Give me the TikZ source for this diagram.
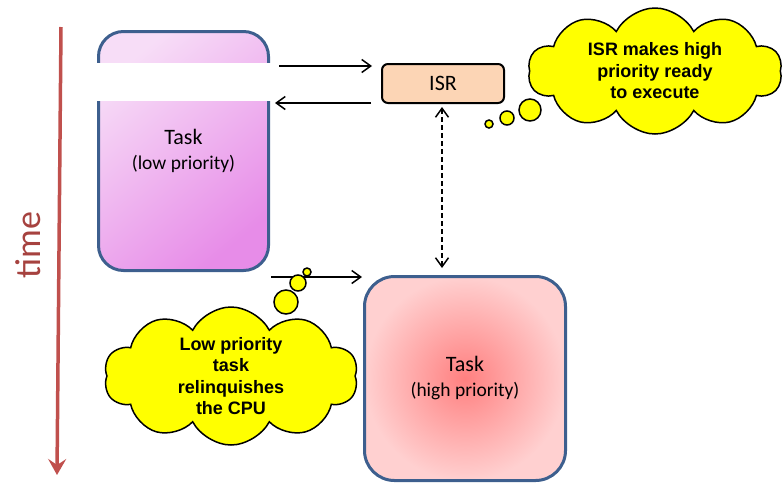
\documentclass[tikz,border=0pt]{standalone}
\usepackage{fontspec}
\setmainfont{Carlito}
\newfontfamily\cloudfont{Liberation Sans}
\usetikzlibrary{arrows.meta,shapes.symbols}
\definecolor{taskline}{HTML}{3D5F8E}
\definecolor{isrfill}{HTML}{FCD5B5}
\definecolor{lowtop}{HTML}{F7DDF7}
\definecolor{lowmid}{HTML}{F2C6F2}
\definecolor{lowbot}{HTML}{E78CE8}
\definecolor{highin}{HTML}{FF8080}
\definecolor{highout}{HTML}{FFD0D0}
\definecolor{timered}{HTML}{C0504D}
\definecolor{timetext}{HTML}{A6423F}
\definecolor{thinkyellow}{HTML}{FFFF00}

\begin{document}
\begin{tikzpicture}[x=1pt,y=-1pt,>={Straight Barb[length=9pt,width=13pt]},
taskbox/.style={draw=taskline,line width=3pt,align=center,inner sep=0pt,
  font=\fontsize{19.5}{25}\selectfont},
isrbox/.style={draw=black,line width=2pt,rounded corners=6pt,fill=isrfill,
  minimum width=122pt,minimum height=39pt,font=\fontsize{22}{26}\selectfont},
thought/.style={cloud,cloud puffs=10,cloud puff arc=125,cloud ignores aspect,
  draw,line width=1.5pt,fill=thinkyellow,align=center,inner sep=0pt,
  font=\cloudfont\bfseries\fontsize{18}{21.5}\selectfont},
bubble/.style={circle,draw,line width=1.5pt,fill=thinkyellow,inner sep=0pt},
link/.style={line width=1.5pt,->},
timeline/.style={draw=timered,line width=3.5pt,
  -{Stealth[length=16pt,width=18pt,inset=6pt]}}]

\useasboundingbox (0,0) rectangle (783,485);

% time axis
\draw[timeline] (61,27) coordinate (ttop) -- (57,475) coordinate (tbot);
\draw (28,245) node[rotate=90,text=timetext,font=\fontsize{36}{40}\selectfont] (time) {time};

% tasks and ISR
\draw (183.5,151) node[taskbox,rounded corners=25pt,minimum width=170pt,minimum height=239pt,
  top color=lowtop,middle color=lowmid,bottom color=lowbot,shading angle=40] (lowtask)
  {{\fontsize{22}{26}\selectfont Task}\\(low priority)};
\fill[white] (94,63) rectangle (274,101);

\draw (443,83.5) node[isrbox] (isr) {ISR};

\draw (465,378.5) node[taskbox,rounded corners=30pt,minimum width=201pt,minimum height=204pt,
  inner color=highin,outer color=highout] (hightask)
  {{\fontsize{22}{26}\selectfont Task}\\(high priority)};

% connectors
\draw[link] ([xshift=9pt,yshift=-3pt]lowtask.east |- isr.north) -- ([xshift=-9pt,yshift=-3pt]isr.north west);
\draw[link] ([xshift=-10pt,yshift=1pt]isr.south west) -- ([xshift=5pt,yshift=1pt]lowtask.east |- isr.south);
\draw[link,<->,dash pattern=on 5pt off 3pt] ([xshift=-1pt,yshift=-3pt]isr.south) -- ([xshift=-1pt,yshift=7pt]hightask.north -| isr.south);
\draw[link] ([xshift=1pt,yshift=-5pt]lowtask.south east) coordinate (hand) -- ([xshift=-1pt]hand -| hightask.west);

% thought clouds
\draw (655,71) node[thought,minimum width=254pt,minimum height=126pt] (isrcloud)
  {ISR makes high\\priority ready\\to execute};
\draw (489,124) node[bubble,minimum size=8pt] (isrb1) {};
\draw (507,118) node[bubble,minimum size=14pt] (isrb2) {};
\draw (530,110) node[bubble,minimum size=22pt] (isrb3) {};

\draw (231,376) node[thought,minimum width=254pt,minimum height=138pt] (cpucloud)
  {Low priority\\task\\relinquishes\\the CPU};
\draw (286,302) node[bubble,minimum size=24pt] (cpub3) {};
\draw (298,283) node[bubble,minimum size=16pt] (cpub2) {};
\draw (307,272) node[bubble,minimum size=8pt] (cpub1) {};

\end{tikzpicture}
\end{document}
